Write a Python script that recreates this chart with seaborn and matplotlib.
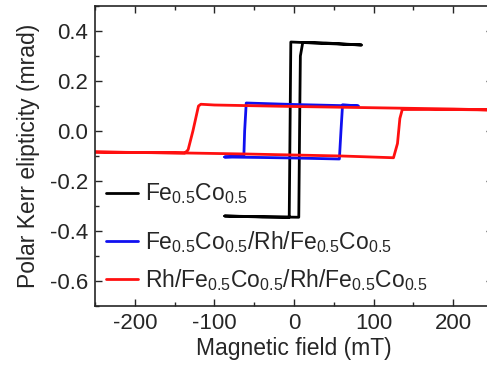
import numpy as np
import pandas as pd
import matplotlib
matplotlib.use("Agg")
import matplotlib.pyplot as plt
import seaborn as sns
from matplotlib.ticker import MultipleLocator

# Hysteresis loops (field in mT, ellipticity in mrad)
feco_field = [-87, -40, 6, 7, 8, 11, 40, 85, 40, -4, -5, -6, -40, -87]
feco_kerr = [-0.340, -0.343, -0.345, 0.0, 0.300, 0.354, 0.352, 0.344, 0.350, 0.356, 0.0, -0.345, -0.344, -0.340]

tri_field = [-87, -40, 0, 57, 59, 61, 81, 40, 0, -60, -62, -63, -87]
tri_kerr = [-0.104, -0.106, -0.108, -0.112, 0.0, 0.105, 0.100, 0.103, 0.106, 0.112, 0.0, -0.100, -0.104]

five_field = [-250, -135, -60, 0, 60, 125, 130, 133, 136, 200, 250,
              200, 100, 0, -100, -117, -120, -127, -133, -137, -200, -250]
five_kerr = [-0.084, -0.088, -0.092, -0.096, -0.100, -0.107, -0.050, 0.050, 0.086, 0.086, 0.084,
             0.088, 0.093, 0.098, 0.104, 0.107, 0.100, 0.000, -0.075, -0.088, -0.086, -0.084]

labels = [r"Fe$_{0.5}$Co$_{0.5}$",
          r"Fe$_{0.5}$Co$_{0.5}$/Rh/Fe$_{0.5}$Co$_{0.5}$",
          r"Rh/Fe$_{0.5}$Co$_{0.5}$/Rh/Fe$_{0.5}$Co$_{0.5}$"]
colors = ["black", "#1010f0", "#ff1010"]

sns.set_style("ticks")
plt.rcParams["font.family"] = ["Liberation Sans", "DejaVu Sans"]
plt.rcParams["mathtext.fontset"] = "custom"
plt.rcParams["mathtext.rm"] = "Liberation Sans"
plt.rcParams["mathtext.it"] = "Liberation Sans:italic"
plt.rcParams["axes.unicode_minus"] = False

frames = []
for name, f, k in zip(labels, [feco_field, tri_field, five_field], [feco_kerr, tri_kerr, five_kerr]):
    frames.append(pd.DataFrame({"field": f, "kerr": k, "sample": name, "order": range(len(f))}))
df = pd.concat(frames)

fig = plt.figure(figsize=(4.87, 3.66), dpi=100)
ax = fig.add_axes([95 / 487, 60 / 366, 398 / 487, 300 / 366])

lines = []
for name, c in zip(labels, colors):
    sub = df[df["sample"] == name]
    sns.lineplot(data=sub, x="field", y="kerr", sort=False, estimator=None,
                 color=c, lw=2.0, ax=ax)
    lines.append(ax.lines[-1])

ax.set_xlim(-250, 250)
ax.set_ylim(-0.7, 0.5)
ax.xaxis.set_major_locator(MultipleLocator(100))
ax.xaxis.set_minor_locator(MultipleLocator(50))
ax.yaxis.set_major_locator(MultipleLocator(0.2))
ax.yaxis.set_minor_locator(MultipleLocator(0.1))
ax.yaxis.set_major_formatter(matplotlib.ticker.FormatStrFormatter("%.1f"))
ax.tick_params(which="both", direction="in", top=True, right=True, labelsize=16, width=1.0)
ax.tick_params(which="major", length=5, pad=5)
ax.tick_params(which="minor", length=3)
for s in ax.spines.values():
    s.set_linewidth(1.2)

ax.set_xlabel("Magnetic field (mT)", fontsize=16.5)
ax.set_ylabel("Polar Kerr elipticity (mrad)", fontsize=16.5)
ax.xaxis.set_label_coords(0.5, -0.105)
ax.yaxis.set_label_coords(-0.138, 0.5)

leg1 = ax.legend([lines[0]], [labels[0]], loc="center left", frameon=False, fontsize=16.5,
                 handlelength=1.4, handletextpad=0.3, borderaxespad=0, borderpad=0)
leg1.set_bbox_to_anchor((106 / 487, 1 - 194 / 366), transform=fig.transFigure)
ax.add_artist(leg1)
leg2 = ax.legend(lines[1:], labels[1:], loc="center left", frameon=False, fontsize=16.5,
                 handlelength=1.4, handletextpad=0.3, labelspacing=0.5,
                 borderaxespad=0, borderpad=0)
leg2.set_bbox_to_anchor((106 / 487, 1 - 261 / 366), transform=fig.transFigure)
for leg in (leg1, leg2):
    for h in leg.get_lines():
        h.set_linewidth(2.0)

fig.savefig("out.png", dpi=100)
